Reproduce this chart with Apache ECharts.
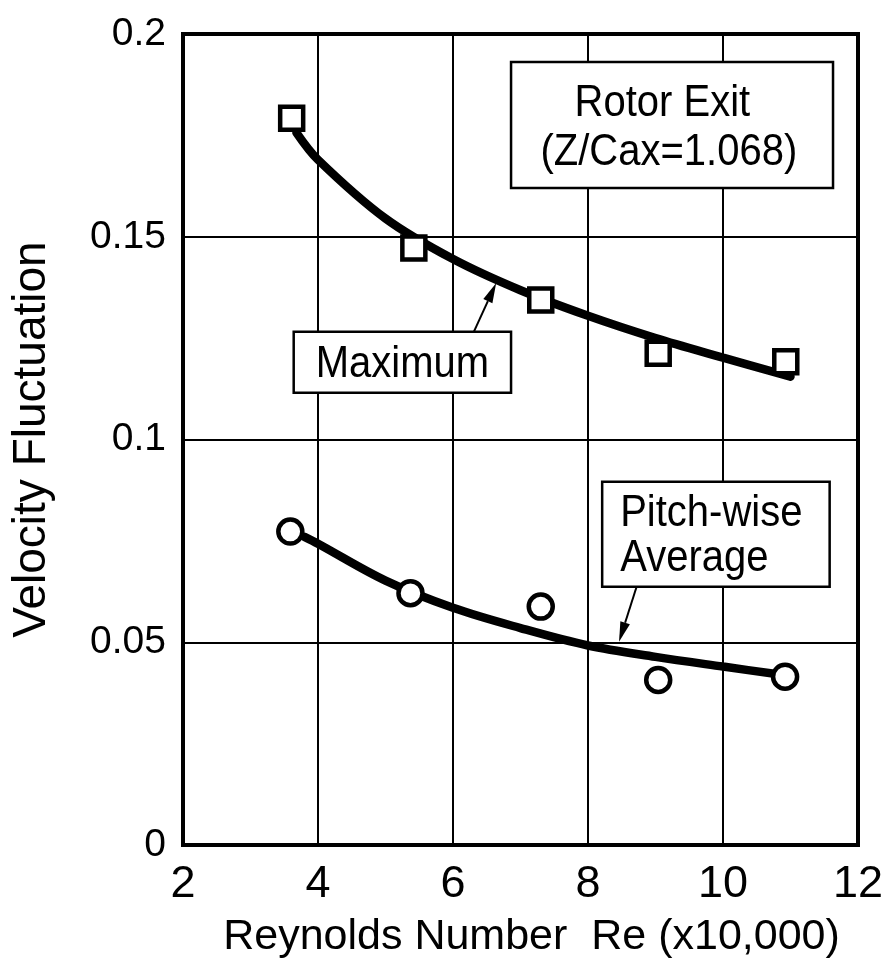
<!DOCTYPE html>
<html>
<head>
<meta charset="utf-8">
<script src="https://cdn.jsdelivr.net/npm/echarts@6.0.0/dist/echarts.min.js"></script>
<style>
  html, body { margin: 0; padding: 0; background: #ffffff; }
  #chart { width: 887px; height: 969px; }
</style>
</head>
<body>
<div id="chart"></div>
<script>
// Measured points: Reynolds number (x10,000) and velocity fluctuation
const maxRe = [3.61, 5.42, 7.30, 9.04, 10.93];
const maxValues = [0.1792, 0.1472, 0.1344, 0.1213, 0.1192];
const avgRe = [3.59, 5.37, 7.30, 9.04, 10.92];
const avgValues = [0.0773, 0.0621, 0.0588, 0.0407, 0.0415];

// Fitted trend curves
const maxCurveRe = [3.68, 4, 5, 6, 7, 8, 9, 10, 11.0];
const maxCurveValues = [0.1757, 0.1690, 0.1545, 0.1445, 0.1368, 0.1305, 0.1250, 0.1202, 0.1155];
const avgCurveRe = [3.80, 4, 5, 6, 7, 8, 9, 10, 10.95];
const avgCurveValues = [0.0760, 0.0743, 0.0652, 0.0585, 0.0535, 0.0492, 0.0464, 0.0440, 0.0418];

// Axis ranges and tick spacing
const xMin = 2, xMax = 12, xStep = 2;
const yMin = 0, yMax = 0.2, yStep = 0.05;

const FONT = '"Liberation Sans", Arial, Helvetica, sans-serif';

const pair = (xs, ys) => xs.map((x, i) => [x, ys[i]]);

const chart = echarts.init(document.getElementById('chart'), null, { renderer: 'canvas' });

const option = {
  animation: false,
  backgroundColor: '#ffffff',
  grid: {
    left: 183, top: 34, right: 29, bottom: 124,
    show: true, borderColor: '#000', borderWidth: 4, backgroundColor: 'transparent'
  },
  xAxis: {
    type: 'value', min: xMin, max: xMax, interval: xStep,
    axisLine: { show: true, lineStyle: { color: '#000', width: 4 } },
    axisTick: { show: false },
    splitLine: { show: true, lineStyle: { color: '#000', width: 2 } },
    axisLabel: { color: '#000', fontFamily: FONT, fontSize: 45, margin: 17 },
    name: 'Reynolds Number  Re (x10,000)',
    nameLocation: 'middle', nameGap: 71,
    nameTextStyle: { color: '#000', fontFamily: FONT, fontSize: 43, padding: [0, 0, 0, 22] }
  },
  yAxis: {
    type: 'value', min: yMin, max: yMax, interval: yStep,
    axisLine: { show: true, lineStyle: { color: '#000', width: 4 } },
    axisTick: { show: false },
    splitLine: { show: true, lineStyle: { color: '#000', width: 2 } },
    axisLabel: { color: '#000', fontFamily: FONT, fontSize: 39, margin: 17 },
    name: 'Velocity Fluctuation',
    nameLocation: 'middle', nameGap: 128,
    nameTextStyle: { color: '#000', fontFamily: FONT, fontSize: 46 }
  },
  series: [
    {
      name: 'Maximum fit', type: 'line', smooth: 0.35, symbol: 'none', z: 3,
      lineStyle: { color: '#000', width: 8.5, cap: 'round' },
      data: pair(maxCurveRe, maxCurveValues)
    },
    {
      name: 'Pitch-wise average fit', type: 'line', smooth: 0.35, symbol: 'none', z: 3,
      lineStyle: { color: '#000', width: 8.5, cap: 'round' },
      data: pair(avgCurveRe, avgCurveValues)
    },
    {
      name: 'Maximum', type: 'scatter', symbol: 'rect', symbolSize: 23, z: 5,
      itemStyle: { color: '#fff', borderColor: '#000', borderWidth: 4.5, opacity: 1 },
      data: pair(maxRe, maxValues)
    },
    {
      name: 'Pitch-wise Average', type: 'scatter', symbol: 'circle', symbolSize: 24, z: 5,
      itemStyle: { color: '#fff', borderColor: '#000', borderWidth: 4.5, opacity: 1 },
      data: pair(avgRe, avgValues)
    }
  ]
};

chart.setOption(option);

// Annotation boxes and leader arrows, anchored in data coordinates
const px = (x, y) => chart.convertToPixel({ gridIndex: 0 }, [x, y]);

function boxRect(x0, y0, x1, y1) {
  const a = px(x0, y0), b = px(x1, y1);
  return { x: Math.min(a[0], b[0]), y: Math.min(a[1], b[1]), w: Math.abs(b[0] - a[0]), h: Math.abs(b[1] - a[1]) };
}

function box(r) {
  return {
    type: 'rect', z: 10,
    shape: { x: r.x, y: r.y, width: r.w, height: r.h },
    style: { fill: '#fff', stroke: '#000', lineWidth: 2.5 }
  };
}

function label(text, x, y, align) {
  return {
    type: 'text', z: 11, x: x, y: y, scaleY: 1.12,
    style: { text: text, fill: '#000', font: '40px ' + FONT, align: align || 'center', verticalAlign: 'middle' }
  };
}

function arrow(from, to) {
  const a = px(from[0], from[1]), b = px(to[0], to[1]);
  const dx = b[0] - a[0], dy = b[1] - a[1];
  const len = Math.sqrt(dx * dx + dy * dy);
  const ux = dx / len, uy = dy / len;
  const headLen = 20, headHalf = 5;
  const baseX = b[0] - ux * headLen, baseY = b[1] - uy * headLen;
  return [
    {
      type: 'line', z: 10,
      shape: { x1: a[0], y1: a[1], x2: baseX, y2: baseY },
      style: { stroke: '#000', lineWidth: 2 }
    },
    {
      type: 'polygon', z: 10,
      shape: { points: [[b[0], b[1]], [baseX - uy * headHalf, baseY + ux * headHalf], [baseX + uy * headHalf, baseY - ux * headHalf]] },
      style: { fill: '#000' }
    }
  ];
}

const rotor = boxRect(6.86, 0.1931, 11.63, 0.1620);
const maxBox = boxRect(3.64, 0.1266, 6.86, 0.1115);
const avgBox = boxRect(8.21, 0.0896, 11.58, 0.0637);

const graphics = [
  box(rotor),
  label('Rotor Exit', rotor.x + rotor.w * 0.47, rotor.y + rotor.h * 0.33),
  label('(Z/Cax=1.068)', rotor.x + rotor.w * 0.49, rotor.y + rotor.h * 0.72),
  box(maxBox),
  label('Maximum', maxBox.x + maxBox.w / 2, maxBox.y + maxBox.h * 0.54),
  box(avgBox),
  label('Pitch-wise', avgBox.x + 18, avgBox.y + avgBox.h * 0.30, 'left'),
  label('Average', avgBox.x + 18, avgBox.y + avgBox.h * 0.73, 'left')
]
  .concat(arrow([6.31, 0.1266], [6.64, 0.1386]))
  .concat(arrow([8.72, 0.0637], [8.46, 0.0501]));

chart.setOption({ graphic: graphics });
</script>
</body>
</html>
